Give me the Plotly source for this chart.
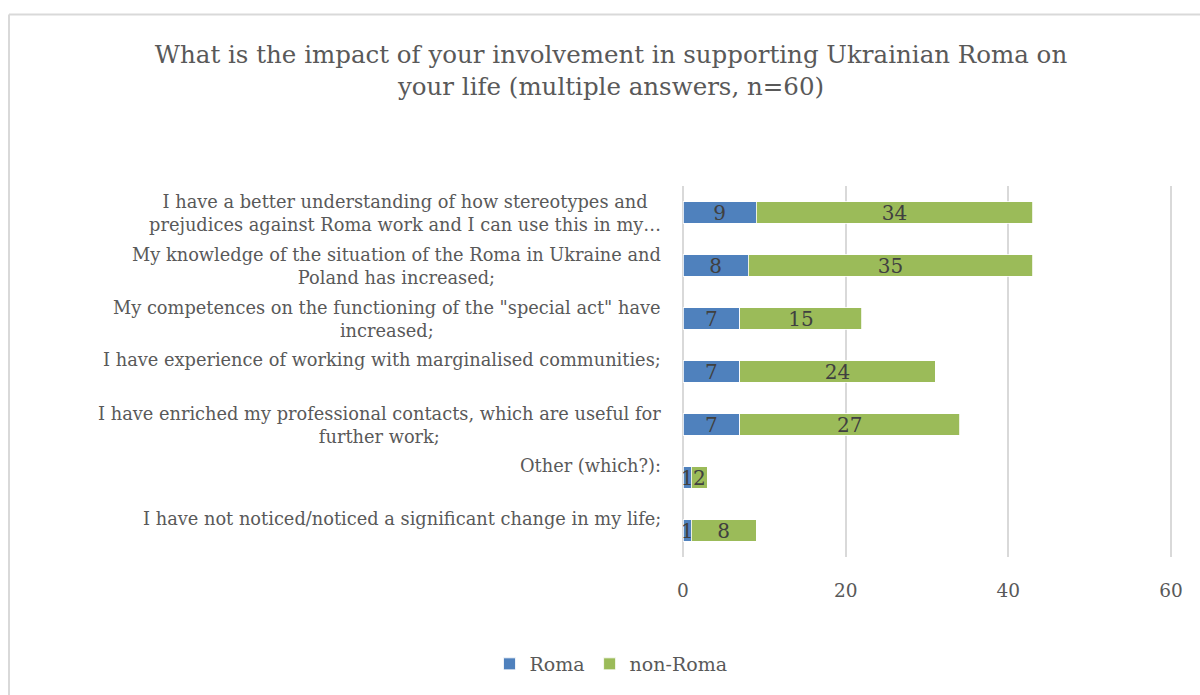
import plotly.graph_objects as go

# Survey answers, top to bottom
categories = [
    "I have a better understanding of how stereotypes and<br>prejudices against Roma work and I can use this in my…",
    "My knowledge of the situation of the Roma in Ukraine and<br>Poland has increased;",
    "My competences on the functioning of the \"special act\" have<br>increased;",
    "I have experience of working with marginalised communities;",
    "I have enriched my professional contacts, which are useful for<br>further work;",
    "Other (which?):",
    "I have not noticed/noticed a significant change in my life;",
]
roma = [9, 8, 7, 7, 7, 1, 1]
non_roma = [34, 35, 15, 24, 27, 2, 8]
x_ticks = [0, 20, 40, 60]

title_text = ("What is the impact of your involvement in supporting Ukrainian Roma on"
              "<br>your life (multiple answers, n=60)")

FONT = "DejaVu Serif"
GREY_TEXT = "#595959"
GRID = "#d9d9d9"

# plot-area geometry in pixels (used for paper-coordinate conversions)
W, H = 1200, 695
L, R, T, B = 683, 27, 186, 138
pw, ph = W - L - R, H - T - B


def px_x(px):
    return (px - L) / pw


def px_y(py):
    return (H - B - py) / ph


fig = go.Figure()
for name, vals, color in [("Roma", roma, "#4f81bd"), ("non-Roma", non_roma, "#9bbb59")]:
    fig.add_trace(go.Bar(
        name=name,
        y=categories,
        x=vals,
        orientation="h",
        marker=dict(color=color, line=dict(color="white", width=0.8)),
        text=vals,
        texttemplate="%{x}",
        textposition="inside",
        insidetextanchor="middle",
        textangle=0,
        constraintext="none",
        insidetextfont=dict(family=FONT, size=20, color="#404040"),
        hoverinfo="x+name",
    ))

# category labels: right-aligned block, lines centred within it
for cat in categories:
    single = "<br>" not in cat
    fig.add_annotation(
        x=0, xref="paper", y=cat, yref="y",
        text=cat, showarrow=False,
        xanchor="right", yanchor="middle", align="center",
        xshift=-20, yshift=12 if single else 0,
        font=dict(family=FONT, size=17.8, color=GREY_TEXT),
    )

# chart-area border (top and left edges)
fig.add_shape(type="line", xref="paper", yref="paper",
              x0=px_x(9), x1=px_x(1210), y0=px_y(14.5), y1=px_y(14.5),
              line=dict(color=GRID, width=2))
fig.add_shape(type="line", xref="paper", yref="paper",
              x0=px_x(9), x1=px_x(9), y0=px_y(14.5), y1=px_y(700),
              line=dict(color=GRID, width=2))

fig.update_layout(
    width=W, height=H,
    margin=dict(l=L, r=R, t=T, b=B, pad=0),
    barmode="stack",
    bargap=0.6,
    paper_bgcolor="white",
    plot_bgcolor="white",
    title=dict(text=title_text, x=611 / W, xref="container", xanchor="center",
               y=1 - 63 / H, yref="container", yanchor="middle",
               font=dict(family=FONT, size=24.5, color=GREY_TEXT)),
    xaxis=dict(range=[0, 60.25], tickvals=x_ticks, showgrid=True, gridcolor=GRID,
               gridwidth=1.5, zeroline=True, zerolinecolor=GRID, zerolinewidth=1.5,
               showline=False, ticks="", ticklabelstandoff=20,
               tickfont=dict(family=FONT, size=18.5, color=GREY_TEXT)),
    yaxis=dict(categoryorder="array", categoryarray=categories, autorange="reversed",
               showticklabels=False, showgrid=False, zeroline=False, ticks=""),
    legend=dict(orientation="h", x=px_x(611), xanchor="center", y=px_y(664),
                yanchor="middle", font=dict(family=FONT, size=19, color=GREY_TEXT),
                traceorder="normal", itemwidth=30),
    showlegend=True,
)

fig.write_html("out.html")
